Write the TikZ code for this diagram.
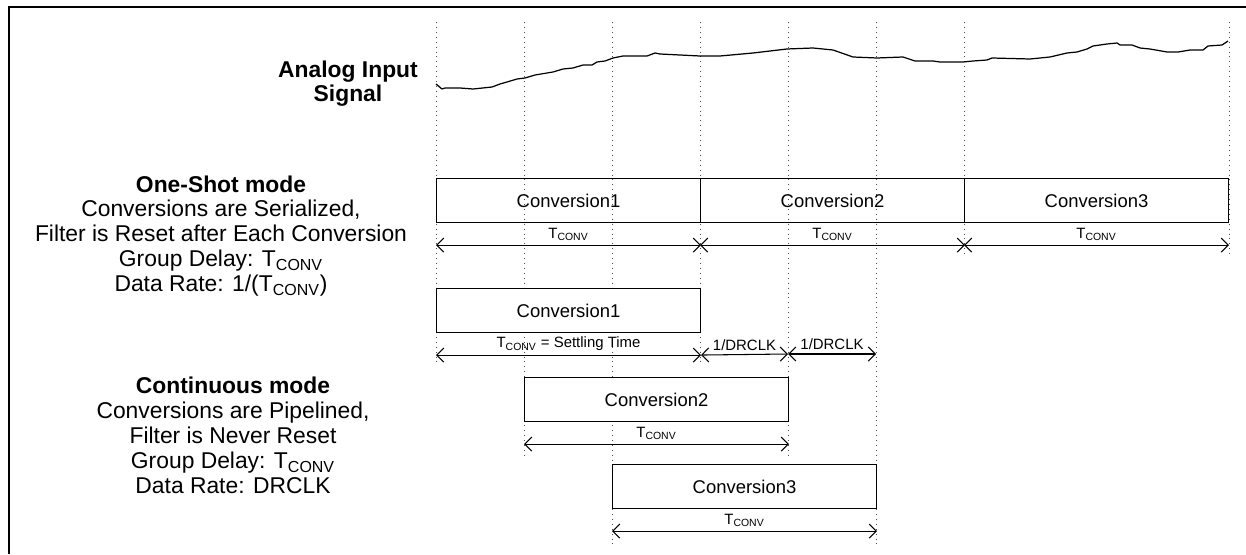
\documentclass[tikz,border=0pt]{standalone}
\usepackage{fontspec}
\setmainfont{Liberation Sans}
\usetikzlibrary{arrows.meta, positioning}
\newcommand{\tconv}{T\textsubscript{CONV}}
\tikzset{
  convbox/.style={rectangle, draw=black, line width=0.6pt,
                  minimum width=5.28cm, minimum height=0.88cm,
                  inner sep=0pt, anchor=north west,
                  font=\fontsize{10.5}{12}\selectfont},
  pipebox/.style={convbox, fill=white},
  spanarrow/.style={{Straight Barb[length=4pt,width=8pt]}-{Straight Barb[length=4pt,width=8pt]},
                    line width=0.6pt},
  spanlabel/.style={anchor=south, inner sep=2pt,
                    font=\fontsize{8.5}{10}\selectfont},
  gridline/.style={black!70, line width=0.5pt, dash pattern=on 0.5pt off 2.3pt},
  modetext/.style={align=center, font=\fontsize{13}{14.2}\selectfont}
}

\begin{document}
\begin{tikzpicture}[x=0.02cm, y=-0.02cm]
  \useasboundingbox (0,0) rectangle (1246,554);
  % Frame
  \draw[line width=1.7pt] (9,554) -- (9,7) -- (1246,7);

  % Time grid
  \foreach \x/\yend in {436/365, 524/455, 612/545, 700/365,
                        788/455, 876/545, 964/258, 1229/258}
    \draw[gridline] (\x,22) -- (\x,\yend);

  % Labels on the left
  \node[modetext, font=\fontsize{13}{13.6}\selectfont\bfseries]
      (analog) at (348,84) {Analog Input\\Signal};
  \node[modetext] (oneshot) at (221,236)
      {\textbf{One-Shot mode}\\Conversions are Serialized,\\
       Filter is Reset after Each Conversion\\Group Delay: \tconv\\
       Data Rate: 1/(\tconv)};
  \node[modetext] (contmode) at (233,435)
      {\textbf{Continuous mode}\\Conversions are Pipelined,\\
       Filter is Never Reset\\Group Delay: \tconv\\Data Rate: DRCLK};

  % Analog input signal
  \draw[line width=0.7pt, line join=round] plot coordinates {
    (436,84) (442,89) (445,88) (460,88) (473,89) (492,87) (500,84)
    (507,82) (517,79) (525,78) (535,75) (547,73) (553,72) (563,69)
    (573,68) (583,65) (592,65) (597,62) (605,61) (613,58) (623,56)
    (640,56) (647,56) (655,53) (660,54) (700,56) (720,56) (753,53)
    (787,49) (813,48) (833,50) (853,57) (877,58) (903,57) (915,61)
    (933,61) (940,62) (963,62) (973,61) (987,60) (992,58) (1030,59)
    (1050,57) (1067,53) (1077,52) (1087,49) (1093,46) (1107,44)
    (1117,43) (1120,45) (1132,45) (1140,48) (1150,49) (1167,52)
    (1178,52) (1190,50) (1203,50) (1208,46) (1222,45) (1228,41)};

  % One-shot conversions
  \node[convbox] (os1) at (436,178) {Conversion1};
  \node[convbox] (os2) at (700,178) {Conversion2};
  \node[convbox] (os3) at (964,178) {Conversion3};
  \foreach \b in {os1, os2, os3}
    \draw[spanarrow] ([yshift=-0.44cm]\b.south west) --
        node[spanlabel] {\tconv} ([yshift=-0.44cm]\b.south east);

  % Continuous conversions
  \node[pipebox] (cc1) at (436,288) {Conversion1};
  \node[pipebox] (cc2) at (524,377) {Conversion2};
  \node[pipebox] (cc3) at (612,464) {Conversion3};
  \coordinate (dr1) at (788,354);
  \coordinate (dr2) at (876,354);
  \draw[spanarrow] ([yshift=-0.44cm]cc1.south west) --
      node[spanlabel] {\tconv{} = Settling Time} ([yshift=-0.44cm]cc1.south east);
  \draw[spanarrow] ([yshift=-0.44cm]cc1.south east) --
      node[spanlabel] {1/DRCLK} (dr1);
  \draw[spanarrow] (dr1) -- node[spanlabel] {1/DRCLK} (dr2);
  \foreach \b in {cc2, cc3}
    \draw[spanarrow] ([yshift=-0.44cm]\b.south west) --
        node[spanlabel] {\tconv} ([yshift=-0.44cm]\b.south east);
\end{tikzpicture}
\end{document}
